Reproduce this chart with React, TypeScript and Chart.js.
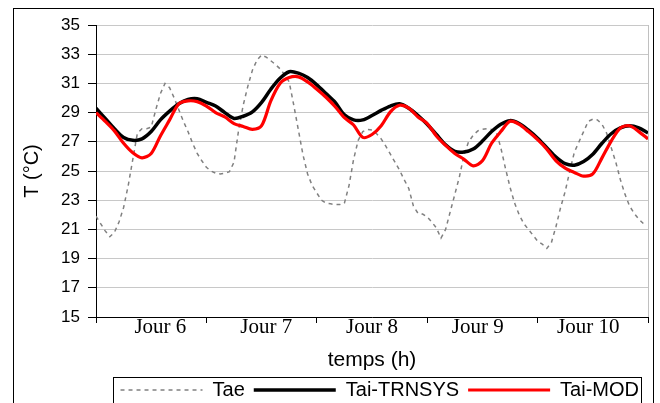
import React, { useEffect, useRef } from 'react';
import { Chart, registerables } from 'chart.js';

Chart.register(...registerables);

// ---- data ----
const TAI_STEP_H = 2; // hours between Tai samples
const TAE_STEP_H = 1; // hours between Tae samples

const taiTRNSYS = [
  29.3, 28.6, 27.9, 27.3, 27.1, 27.2, 27.7, 28.5, 29.1, 29.6, 29.9, 29.95, 29.7,
  29.45, 29.0, 28.6, 28.75, 29.05, 29.7, 30.6, 31.35, 31.8, 31.7, 31.4, 30.9,
  30.3, 29.7, 28.85, 28.5, 28.5, 28.8, 29.15, 29.45, 29.6, 29.3, 28.8, 28.2,
  27.5, 26.8, 26.35, 26.3, 26.5, 27.05, 27.7, 28.2, 28.45, 28.25, 27.8, 27.25,
  26.6, 25.95, 25.5, 25.4, 25.65, 26.15, 26.9, 27.55, 27.95, 28.1, 27.95, 27.6,
];

const taiMOD = [
  29.0, 28.4, 27.75, 26.9, 26.25, 25.9, 26.2, 27.4, 28.5, 29.6, 29.8, 29.75, 29.45,
  29.0, 28.7, 28.25, 28.05, 27.85, 28.1, 29.8, 31.0, 31.4, 31.45, 31.1, 30.6,
  30.05, 29.4, 28.65, 28.15, 27.3, 27.5, 28.1, 29.05, 29.5, 29.3, 28.7, 28.25,
  27.4, 26.75, 26.2, 25.8, 25.35, 25.7, 26.9, 27.7, 28.4, 28.2, 27.7, 27.15,
  26.5, 25.7, 25.2, 24.9, 24.65, 24.8, 25.9, 27.05, 27.95, 28.1, 27.7, 27.2,
];

const tae = [
  21.9, 21.4, 20.9, 20.5, 20.8, 21.5, 22.5, 24.0, 25.8, 27.6, 27.9, 27.9, 28.0, 29.2,
  30.3, 31.0, 30.7, 30.0, 29.2, 28.4, 27.7, 26.9, 26.2, 25.7, 25.25, 25.0, 24.85, 24.8,
  24.85, 24.95, 25.6, 27.8, 29.5, 30.8, 31.9, 32.6, 32.95, 32.8, 32.55, 32.3, 32.0, 31.6,
  31.1, 29.5, 27.8, 26.1, 24.8, 24.0, 23.5, 23.0, 22.8, 22.75, 22.7, 22.7, 22.8, 24.0,
  25.8, 27.1, 27.7, 27.85, 27.8, 27.55, 27.2, 26.7, 26.15, 25.6, 25.05, 24.4, 23.8, 22.6,
  22.1, 22.05, 21.85, 21.5, 21.1, 20.4, 21.0, 22.2, 23.4, 24.6, 26.1, 27.0, 27.45, 27.75,
  27.85, 27.9, 27.85, 27.7, 26.6, 25.2, 23.9, 22.8, 22.0, 21.4, 21.0, 20.6, 20.2, 20.0,
  19.7, 20.1, 21.2, 22.5, 23.6, 25.0, 26.3, 27.0, 27.7, 28.4, 28.55, 28.5, 28.2, 27.6,
  26.6, 25.6, 24.4, 23.4, 22.6, 22.1, 21.7, 21.4,
];

const dayBoundaryHours = [0, 24, 48, 72, 96, 120];
const dayLabelHours = [14, 37, 60, 83, 107];
const dayLabels = ['Jour 6', 'Jour 7', 'Jour 8', 'Jour 9', 'Jour 10'];
const yTicks = { min: 15, max: 35, step: 2 };

const SANS = "'Liberation Sans', Arial, sans-serif";
const SERIF = "'Liberation Serif', 'Times New Roman', serif";

const framePlugin = {
  id: 'frames',
  beforeDraw(chart: any) {
    const { ctx, width, height } = chart;
    ctx.save();
    ctx.fillStyle = '#ffffff';
    ctx.fillRect(0, 0, width, height);
    ctx.restore();
  },
  afterDraw(chart: any) {
    const { ctx, chartArea, legend } = chart;
    ctx.save();
    ctx.lineWidth = 1;
    ctx.strokeStyle = '#c0c0c0';
    const rx = Math.round(chartArea.right) + 0.5;
    ctx.beginPath();
    ctx.moveTo(rx, chartArea.top);
    ctx.lineTo(rx, chartArea.bottom);
    ctx.stroke();
    ctx.strokeStyle = '#000000';
    ctx.strokeRect(13.5, 8.5, 640, 440);
    const hb = legend && legend.legendHitBoxes;
    if (hb && hb.length) {
      const l = hb[0].left - 8;
      const last = hb[hb.length - 1];
      const r = last.left + last.width + 2;
      const t = legend.top + 6;
      ctx.strokeRect(Math.round(l) + 0.5, Math.round(t) + 0.5, Math.round(r - l), 80);
    }
    ctx.restore();
  },
};

export default function App() {
  const canvasRef = useRef<HTMLCanvasElement | null>(null);

  useEffect(() => {
    if (!canvasRef.current) return;
    const chart = new Chart(canvasRef.current, {
      type: 'line',
      data: {
        datasets: [
          {
            label: 'Tai-MOD',
            data: taiMOD.map((v, i) => ({ x: i * TAI_STEP_H, y: v })),
            borderColor: '#ff0000',
            backgroundColor: '#ff0000',
            borderWidth: 3.2,
            pointRadius: 0,
            tension: 0.3,
          },
          {
            label: 'Tai-TRNSYS',
            data: taiTRNSYS.map((v, i) => ({ x: i * TAI_STEP_H, y: v })),
            borderColor: '#000000',
            backgroundColor: '#000000',
            borderWidth: 3.5,
            pointRadius: 0,
            tension: 0.3,
          },
          {
            label: 'Tae',
            data: tae.map((v, i) => ({ x: i * TAE_STEP_H, y: v })),
            borderColor: '#808080',
            backgroundColor: '#808080',
            borderWidth: 1.5,
            borderDash: [4, 4],
            pointRadius: 0,
            tension: 0,
          },
        ],
      },
      options: {
        animation: false,
        responsive: true,
        maintainAspectRatio: false,
        layout: { padding: { top: 25, right: 12, bottom: -7, left: 0 } },
        plugins: {
          tooltip: { enabled: false },
          legend: {
            display: true,
            position: 'bottom',
            align: 'end',
            labels: {
              boxWidth: 82,
              boxHeight: 0,
              padding: 9,
              color: '#000000',
              font: { family: SANS, size: 20 },
              sort: (a: any, b: any) => b.datasetIndex - a.datasetIndex,
            },
          },
        },
        scales: {
          x: {
            type: 'linear',
            min: dayBoundaryHours[0],
            max: dayBoundaryHours[dayBoundaryHours.length - 1],
            afterBuildTicks: (scale: any) => {
              const vals = [...dayBoundaryHours, ...dayLabelHours].sort((a, b) => a - b);
              scale.ticks = vals.map((v) => ({ value: v }));
            },
            afterFit: (scale: any) => {
              scale.height = 54;
            },
            ticks: {
              autoSkip: false,
              maxRotation: 0,
              minRotation: 0,
              padding: -6,
              color: '#000000',
              font: { family: SERIF, size: 21, lineHeight: 1 },
              callback: (value: any) => {
                const idx = dayLabelHours.indexOf(Number(value));
                return idx >= 0 ? dayLabels[idx] : '';
              },
            },
            grid: {
              drawOnChartArea: false,
              tickLength: 6,
              tickColor: (ctx: any) =>
                ctx.tick && dayBoundaryHours.includes(ctx.tick.value) ? '#000000' : 'rgba(0,0,0,0)',
            },
            border: { color: '#000000', width: 1 },
            title: {
              display: true,
              text: 'temps (h)',
              color: '#000000',
              font: { family: SANS, size: 21, lineHeight: 1 },
              padding: 0,
            },
          },
          y: {
            type: 'linear',
            min: yTicks.min,
            max: yTicks.max,
            afterFit: (scale: any) => {
              scale.width = 96;
            },
            ticks: {
              stepSize: yTicks.step,
              padding: 8,
              color: '#000000',
              font: { family: SANS, size: 17 },
            },
            grid: {
              color: '#c8c8c8',
              tickLength: 8,
              tickColor: '#000000',
            },
            border: { color: '#000000', width: 1 },
            title: {
              display: true,
              text: 'T (°C)',
              color: '#000000',
              font: { family: SANS, size: 20, lineHeight: 1 },
              padding: { top: 22, bottom: 0 },
            },
          },
        },
      },
      plugins: [framePlugin],
    } as any);
    return () => chart.destroy();
  }, []);

  return (
    <div style={{ position: 'fixed', left: 0, top: 0, width: 660, height: 403, background: '#fff' }}>
      <canvas ref={canvasRef} />
    </div>
  );
}
